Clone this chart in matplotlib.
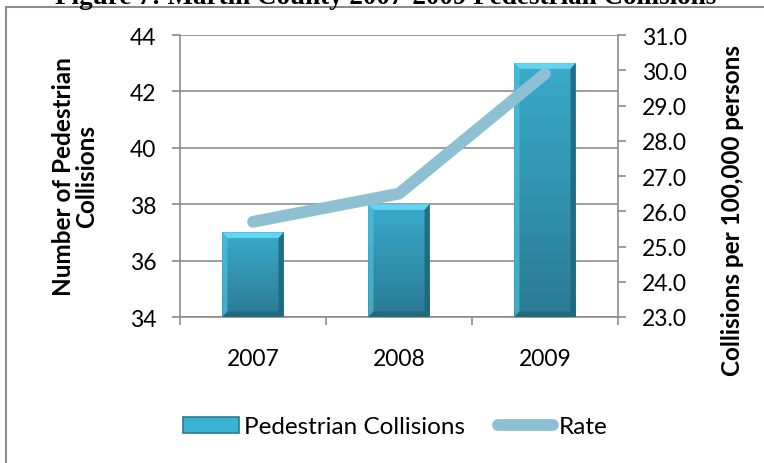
import numpy as np
import matplotlib
matplotlib.use("Agg")
import matplotlib.pyplot as plt
from matplotlib.patches import Rectangle, Polygon, Patch
from matplotlib.lines import Line2D

years = ["2007", "2008", "2009"]
collisions = [37, 38, 43]
rate = [25.7, 26.5, 29.9]

plt.rcParams["font.family"] = ["Lato", "DejaVu Sans"]

W, H = 764, 464
fig = plt.figure(figsize=(W / 100, H / 100), dpi=100)
ax = fig.add_axes([180 / W, 1 - 318 / H, (618 - 180) / W, (318 - 36) / H])

grid_col = "#8c8c8c"
tick_fs = 16.5
label_fs = 17.5
x = np.arange(len(years))
bar_w = 0.42

# flat bars underneath, then gradient + bevel on top
ax.bar(x, [c - 34 for c in collisions], bar_w, bottom=34,
       color="#35a0bf", zorder=2)

grad = np.linspace(0, 1, 100).reshape(-1, 1)
cmap = matplotlib.colors.LinearSegmentedColormap.from_list(
    "bar", ["#2a7b93", "#3aaacb"])
bx = 0.035   # bevel width in x units
by = 0.2     # bevel height in y units
for xi, val in zip(x, collisions):
    x0, x1 = xi - bar_w / 2, xi + bar_w / 2
    y0, y1 = 34, val
    # soft shadow under the bar
    ax.add_patch(Rectangle((x0 + 0.01, y0 - 0.06), bar_w, 0.08,
                           color="#9a9a9a", alpha=0.5, zorder=2, lw=0))
    ax.imshow(grad, extent=(x0, x1, y0, y1), origin="lower", cmap=cmap,
              aspect="auto", zorder=3)
    ax.add_patch(Polygon([(x0, y1), (x1, y1), (x1 - bx, y1 - by), (x0 + bx, y1 - by)],
                         closed=True, color="#62d6f0", lw=0, zorder=4))
    ax.add_patch(Polygon([(x1, y1), (x1, y0), (x1 - bx, y0 + by), (x1 - bx, y1 - by)],
                         closed=True, color="#1f6579", lw=0, zorder=4, alpha=0.85))
    ax.add_patch(Polygon([(x0, y1), (x0, y0), (x0 + bx, y0 + by), (x0 + bx, y1 - by)],
                         closed=True, color="#4cc0dc", lw=0, zorder=4, alpha=0.7))
    ax.add_patch(Polygon([(x0, y0), (x1, y0), (x1 - bx, y0 + by), (x0 + bx, y0 + by)],
                         closed=True, color="#22667a", lw=0, zorder=4, alpha=0.8))

ax.set_xlim(-0.5, 2.5)
ax.set_ylim(34, 44)
ax.set_yticks(range(34, 45, 2))
ax.yaxis.grid(True, color=grid_col, lw=1.2, zorder=0)
ax.set_axisbelow(True)

ax.set_xticks(x)
ax.set_xticklabels(years)
ax.set_xticks([-0.5, 0.5, 1.5, 2.5], minor=True)
ax.tick_params(axis="x", which="major", length=0, pad=22, labelsize=tick_fs)
ax.tick_params(axis="x", which="minor", length=6, color=grid_col, width=1.2)
ax.tick_params(axis="y", length=6, color=grid_col, width=1.2, pad=11, labelsize=tick_fs)

for side in ["top", "right"]:
    ax.spines[side].set_visible(False)
for side in ["left", "bottom"]:
    ax.spines[side].set_color(grid_col)
    ax.spines[side].set_linewidth(1.2)

ax2 = ax.twinx()
ax2.plot(x, rate, color="#8dc0d3", lw=8.5, solid_capstyle="round",
         solid_joinstyle="round", zorder=5)
ax2.set_ylim(23, 31)
ax2.set_yticks(np.arange(23, 31.5, 1))
ax2.set_yticklabels([f"{v:.1f}" for v in np.arange(23, 31.5, 1)])
ax2.tick_params(axis="y", length=6, color=grid_col, width=1.2, pad=11, labelsize=tick_fs)
for side in ["top", "left", "bottom"]:
    ax2.spines[side].set_visible(False)
ax2.spines["right"].set_color(grid_col)
ax2.spines["right"].set_linewidth(1.2)

fig.text(75 / W, 1 - 177 / H, "Number of Pedestrian\nCollisions", rotation=90,
         ha="center", va="center", multialignment="center",
         fontsize=label_fs, fontweight="bold", linespacing=1.05)
fig.text(733 / W, 1 - 210 / H, "Collisions per 100,000 persons", rotation=90,
         ha="center", va="center", fontsize=label_fs, fontweight="bold")

# chart title, mostly above the top edge
fig.text(386 / W, 1 - 4 / H, "Figure 7: Martin County 2007-2009 Pedestrian Collisions",
         ha="center", va="baseline", fontsize=19.5, fontweight="bold",
         family=["Liberation Serif", "DejaVu Serif"])

# chart frame
fig.patches.append(Rectangle((6 / W, -0.1), 1.2, 1.1 - 8 / H, fill=False,
                             edgecolor="#8c8c8c", lw=1.5, transform=fig.transFigure,
                             figure=fig))

handles = [Patch(facecolor="#3bb3d2", edgecolor="#2a7b93", lw=1.2),
           Line2D([], [], color="#8dc0d3", lw=8.5, solid_capstyle="round")]
fig.legend(handles, ["Pedestrian Collisions", "Rate"], loc="center",
           bbox_to_anchor=(395 / W, 1 - 428 / H, 0, 0), ncol=2, frameon=False,
           fontsize=label_fs, handlelength=2.3, handleheight=0.68,
           handletextpad=0.2, columnspacing=1.35)

fig.savefig("out.png", dpi=100)
